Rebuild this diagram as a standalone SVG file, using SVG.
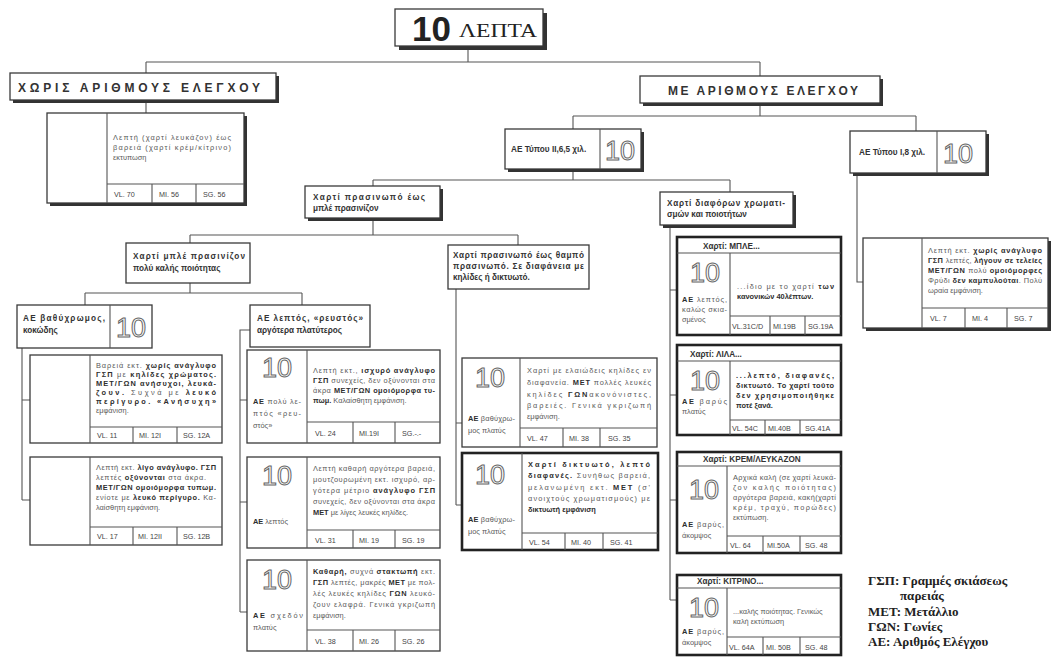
<svg xmlns="http://www.w3.org/2000/svg" width="1053" height="657" viewBox="0 0 1053 657">
<style>
text{font-family:"Liberation Sans",Arial,sans-serif}
.t{font-size:7.4px;fill:#5a5a5a}
.b{font-weight:bold;fill:#2e2e2e}
.bt{font-size:8.2px;font-weight:bold;fill:#333}
.c{font-size:7.2px;fill:#444}
.hd{font-size:12px;font-weight:bold;fill:#333}
.sym{font-size:27px;fill:#fff;stroke:#666;stroke-width:1}
.box{fill:#fff;stroke:#3a3a3a;stroke-width:1.3}
.tb{fill:#fff;stroke:#222;stroke-width:2.6}
.sh{fill:#333}
.ln{fill:none;stroke:#555;stroke-width:1.1}
.lg{font-family:"Liberation Serif",serif;font-size:13px;font-weight:bold;fill:#222}
</style>
<rect width="1053" height="657" fill="#fff"/>
<g id="connectors" class="ln">
<path d="M468 47V62M146 62H760M146 62V73M760 62V76"/>
<path d="M146 100V113"/>
<path d="M760 103V116M573 116H916M573 116V129M916 116V131"/>
<path d="M857 173V282H863"/>
<path d="M573 169V180M373 180H730M373 180V186M730 180V192"/>
<path d="M373 218V235M190 235H518M190 235V243M518 235V245"/>
<path d="M190 283V293M85 293H302M85 293V305M302 293V305"/>
<path d="M22 348V500M22 400H30M22 500H30"/>
<path d="M250 330H240V612M240 400H247M240 502H247M240 612H247"/>
<path d="M456 289V505M456 423H462M456 505H462"/>
<path d="M670 226V600M670 290H677M670 395H677M670 500H677M670 600H677"/>
</g>
<g id="title">
<rect class="sh" x="399" y="13" width="148" height="37"/>
<rect class="box" x="395" y="9" width="148" height="37"/>
<text x="412" y="41" style="font-size:35px;font-weight:bold;fill:#222">10</text>
<text x="459" y="37" textLength="78" lengthAdjust="spacingAndGlyphs" style="font-family:'Liberation Serif',serif;font-size:19px;fill:#222">ΛΕΠΤΑ</text>
</g>
<g id="h-left">
<rect class="sh" x="13" y="76" width="266" height="27"/>
<rect class="box" x="10" y="73" width="266" height="27"/>
<text class="hd" x="18" y="92" textLength="242" lengthAdjust="spacing">ΧΩΡΙΣ ΑΡΙΘΜΟΥΣ ΕΛΕΓΧΟΥ</text>
</g>
<g id="h-right">
<rect class="sh" x="643" y="79" width="240" height="27"/>
<rect class="box" x="640" y="76" width="240" height="27"/>
<text class="hd" x="668" y="95" textLength="190" lengthAdjust="spacing">ΜΕ ΑΡΙΘΜΟΥΣ ΕΛΕΓΧΟΥ</text>
</g>
<g id="b-none">
<rect class="sh" x="50" y="116" width="197" height="90"/>
<rect class="box" x="47" y="113" width="197" height="90"/>
<path class="ln" d="M107 113V203M107 184H244M152 184V203M196 184V203"/>
<text class="t" x="113" y="140" textLength="118" lengthAdjust="spacing">Λεπτή (χαρτί λευκάζον) έως</text>
<text class="t" x="113" y="150" textLength="118" lengthAdjust="spacing">βαρειά (χαρτί κρέμ/κίτρινο)</text>
<text class="t" x="113" y="160">εκτυπωση</text>
<text class="c" x="114" y="197">VL. 70</text><text class="c" x="159" y="197">MI. 56</text><text class="c" x="203" y="197">SG. 56</text>
</g>
<g id="ae-ii">
<rect class="sh" x="508" y="132" width="136" height="40"/>
<rect class="box" x="505" y="129" width="136" height="40"/>
<path class="ln" d="M600 129V169"/>
<text class="bt" x="511" y="152">ΑΕ Τύπου ΙΙ,6,5 χιλ.</text>
<text class="sym" x="605" y="160">10</text>
</g>
<g id="ae-i8">
<rect class="sh" x="853" y="134" width="136" height="42"/>
<rect class="box" x="850" y="131" width="136" height="42"/>
<path class="ln" d="M937 131V173"/>
<text class="bt" x="859" y="155">ΑΕ Τύπου Ι,8 χιλ.</text>
<text class="sym" x="943" y="163">10</text>
</g>
<g id="b-i8">
<rect class="sh" x="866" y="241" width="185" height="90"/>
<rect class="box" x="863" y="238" width="185" height="90"/>
<path class="ln" d="M922 238V328M922 308H1048M965 308V328M1007 308V328"/>
<text class="t" x="928" y="253" textLength="114" lengthAdjust="spacing">Λεπτή εκτ. <tspan class="b">χωρίς ανάγλυφο</tspan></text>
<text class="t" x="928" y="263" textLength="114" lengthAdjust="spacing"><tspan class="b">ΓΣΠ</tspan> λεπτές, <tspan class="b">λήγουν σε τελείες</tspan></text>
<text class="t" x="928" y="273" textLength="114" lengthAdjust="spacing"><tspan class="b">ΜΕΤ/ΓΩΝ</tspan> πολύ <tspan class="b">ομοιόμορφες</tspan></text>
<text class="t" x="928" y="283" textLength="114" lengthAdjust="spacing">Φρύδι <tspan class="b">δεν καμπυλούται</tspan>. Πολύ</text>
<text class="t" x="928" y="293">ωραία εμφάνιση.</text>
<text class="c" x="930" y="321">VL. 7</text><text class="c" x="972" y="321">MI. 4</text><text class="c" x="1014" y="321">SG. 7</text>
</g>
<g id="p1">
<rect class="sh" x="308" y="189" width="135" height="32"/>
<rect class="box" x="305" y="186" width="135" height="32"/>
<text class="bt" x="313" y="200" textLength="112" lengthAdjust="spacing">Χαρτί πρασινωπό έως</text>
<text class="bt" x="313" y="211">μπλέ πρασινίζον</text>
</g>
<g id="p2">
<rect class="sh" x="663" y="195" width="133" height="33"/>
<rect class="box" x="660" y="192" width="133" height="33"/>
<text class="bt" x="667" y="206" textLength="118" lengthAdjust="spacing">Χαρτί διαφόρων χρωματι-</text>
<text class="bt" x="667" y="217">σμών και ποιοτήτων</text>
</g>
<g id="p1a">
<rect class="box" x="126" y="243" width="124" height="40"/>
<text class="bt" x="133" y="259" textLength="112" lengthAdjust="spacing">Χαρτί μπλέ πρασινίζον</text>
<text class="bt" x="133" y="271">πολύ καλής ποιότητας</text>
</g>
<g id="p1b">
<rect class="box" x="448" y="245" width="141" height="44"/>
<text class="bt" x="453" y="258" textLength="131" lengthAdjust="spacing">Χαρτί πρασινωπό έως θαμπό</text>
<text class="bt" x="453" y="269" textLength="131" lengthAdjust="spacing">πρασινωπό. Σε διαφάνεια με</text>
<text class="bt" x="453" y="280">κηλίδες ή δικτυωτό.</text>
</g>
<g id="ae-vathy">
<rect class="box" x="17" y="305" width="135" height="43"/>
<path class="ln" d="M110 305V348"/>
<text class="bt" x="23" y="321" textLength="82" lengthAdjust="spacing">ΑΕ βαθύχρωμος,</text>
<text class="bt" x="23" y="333">κοκώδης</text>
<text class="sym" x="116" y="337">10</text>
</g>
<g id="ae-lept">
<rect class="box" x="250" y="305" width="120" height="42"/>
<text class="bt" x="257" y="321" textLength="106" lengthAdjust="spacing">ΑΕ λεπτός, «ρευστός»</text>
<text class="bt" x="257" y="333">αργότερα πλατύτερος</text>
</g>
<g id="b-11">
<rect class="box" x="30" y="355" width="192" height="88"/>
<path class="ln" d="M90 355V443M90 427H222M133 427V443M177 427V443"/>
<text class="t" x="96" y="368" textLength="120" lengthAdjust="spacing">Βαρειά εκτ. <tspan class="b">χωρίς ανάγλυφο</tspan></text>
<text class="t" x="96" y="377" textLength="120" lengthAdjust="spacing"><tspan class="b">ΓΣΠ</tspan> με <tspan class="b">κηλίδες χρώματος.</tspan></text>
<text class="t" x="96" y="386" textLength="120" lengthAdjust="spacing"><tspan class="b">ΜΕΤ/ΓΩΝ ανήσυχοι, λευκά-</tspan></text>
<text class="t" x="96" y="395" textLength="120" lengthAdjust="spacing"><tspan class="b">ζουν.</tspan> Συχνά με <tspan class="b">λευκό</tspan></text>
<text class="t" x="96" y="404" textLength="120" lengthAdjust="spacing"><tspan class="b">περίγυρο. «Ανήσυχη»</tspan></text>
<text class="t" x="96" y="413">εμφάνιση.</text>
<text class="c" x="97" y="438">VL. 11</text><text class="c" x="139" y="438">MI. 12I</text><text class="c" x="183" y="438">SG. 12A</text>
</g>
<g id="b-17">
<rect class="box" x="30" y="457" width="192" height="88"/>
<path class="ln" d="M90 457V545M90 527H222M133 527V545M177 527V545"/>
<text class="t" x="96" y="470" textLength="120" lengthAdjust="spacing">Λεπτή εκτ. <tspan class="b">λίγο ανάγλυφο. ΓΣΠ</tspan></text>
<text class="t" x="96" y="480" textLength="110" lengthAdjust="spacing">λεπτές <tspan class="b">οξύνονται</tspan> στα άκρα.</text>
<text class="t" x="96" y="490" textLength="120" lengthAdjust="spacing"><tspan class="b">ΜΕΤ/ΓΩΝ ομοιόμορφα τυπωμ.</tspan></text>
<text class="t" x="96" y="500" textLength="120" lengthAdjust="spacing">ενίοτε με <tspan class="b">λευκό περίγυρο.</tspan> Κα-</text>
<text class="t" x="96" y="510">λαίσθητη εμφάνιση.</text>
<text class="c" x="97" y="539">VL. 17</text><text class="c" x="138" y="539">MI. 12II</text><text class="c" x="183" y="539">SG. 12B</text>
</g>
<g id="r-24">
<rect class="box" x="247" y="350" width="193" height="93"/>
<path class="ln" d="M307 350V443M307 422H440M353 422V443M395 422V443"/>
<text class="sym" x="262" y="377">10</text>
<text class="t" x="253" y="404" textLength="48" lengthAdjust="spacing"><tspan class="b">ΑΕ</tspan> πολύ λε-</text>
<text class="t" x="253" y="416" textLength="48" lengthAdjust="spacing">πτός «ρευ-</text>
<text class="t" x="253" y="428">στός»</text>
<text class="t" x="313" y="373" textLength="122" lengthAdjust="spacing">Λεπτή εκτ., <tspan class="b">ισχυρό ανάγλυφο</tspan></text>
<text class="t" x="313" y="383" textLength="122" lengthAdjust="spacing"><tspan class="b">ΓΣΠ</tspan> συνεχείς, δεν οξύνονται στα</text>
<text class="t" x="313" y="393" textLength="122" lengthAdjust="spacing">άκρα <tspan class="b">ΜΕΤ/ΓΩΝ ομοιόμορφα τυ-</tspan></text>
<text class="t" x="313" y="403"><tspan class="b">πωμ.</tspan> Καλαίσθητη εμφάνιση.</text>
<text class="c" x="315" y="436">VL. 24</text><text class="c" x="359" y="436">MI.19I</text><text class="c" x="402" y="436">SG.-.-</text>
</g>
<g id="r-31">
<rect class="box" x="247" y="457" width="193" height="91"/>
<path class="ln" d="M307 457V548M307 530H440M353 530V548M395 530V548"/>
<text class="sym" x="262" y="485">10</text>
<text class="t" x="253" y="524"><tspan class="b">ΑΕ</tspan> λεπτός</text>
<text class="t" x="313" y="471" textLength="122" lengthAdjust="spacing">Λεπτή καθαρή αργότερα βαρειά,</text>
<text class="t" x="313" y="482" textLength="122" lengthAdjust="spacing">μουτζουρωμένη εκτ. ισχυρό, αρ-</text>
<text class="t" x="313" y="493" textLength="122" lengthAdjust="spacing">γότερα μέτριο <tspan class="b">ανάγλυφο ΓΣΠ</tspan></text>
<text class="t" x="313" y="504" textLength="122" lengthAdjust="spacing">συνεχείς, δεν οξύνονται στα άκρα</text>
<text class="t" x="313" y="515"><tspan class="b">ΜΕΤ</tspan> με λίγες λευκές κηλίδες.</text>
<text class="c" x="315" y="543">VL. 31</text><text class="c" x="359" y="543">MI. 19</text><text class="c" x="402" y="543">SG. 19</text>
</g>
<g id="r-38">
<rect class="box" x="247" y="560" width="193" height="91"/>
<path class="ln" d="M307 560V651M307 630H440M353 630V651M395 630V651"/>
<text class="sym" x="262" y="589">10</text>
<text class="t" x="253" y="618" textLength="50" lengthAdjust="spacing"><tspan class="b">ΑΕ</tspan> σχεδόν</text>
<text class="t" x="253" y="630">πλατύς</text>
<text class="t" x="313" y="574" textLength="122" lengthAdjust="spacing"><tspan class="b">Καθαρή,</tspan> συχνά <tspan class="b">στακτωπή</tspan> εκτ.</text>
<text class="t" x="313" y="585" textLength="122" lengthAdjust="spacing"><tspan class="b">ΓΣΠ</tspan> λεπτές, μακρές <tspan class="b">ΜΕΤ</tspan> με πολ-</text>
<text class="t" x="313" y="596" textLength="122" lengthAdjust="spacing">λές λευκές κηλίδες <tspan class="b">ΓΩΝ</tspan> λευκό-</text>
<text class="t" x="313" y="607" textLength="122" lengthAdjust="spacing">ζουν ελαφρά. Γενικά γκριζωπή</text>
<text class="t" x="313" y="618">εμφάνιση.</text>
<text class="c" x="315" y="644">VL. 38</text><text class="c" x="359" y="644">MI. 26</text><text class="c" x="402" y="644">SG. 26</text>
</g>
<g id="g-47">
<rect class="box" x="462" y="358" width="195" height="89"/>
<path class="ln" d="M520 358V447M520 428H657M563 428V447M600 428V447"/>
<text class="sym" x="475" y="387">10</text>
<text class="t" x="468" y="421" textLength="47" lengthAdjust="spacing"><tspan class="b">ΑΕ</tspan> βαθύχρω-</text>
<text class="t" x="468" y="433">μος πλατύς</text>
<text class="t" x="527" y="373" textLength="124" lengthAdjust="spacing">Χαρτί με ελαιώδεις κηλίδες εν</text>
<text class="t" x="527" y="385" textLength="124" lengthAdjust="spacing">διαφανεία. <tspan class="b">ΜΕΤ</tspan> πολλές λευκές</text>
<text class="t" x="527" y="397" textLength="124" lengthAdjust="spacing">κηλίδες <tspan class="b">ΓΩΝ</tspan>ακονόνιστες,</text>
<text class="t" x="527" y="408" textLength="124" lengthAdjust="spacing">βαρειές. Γενικά γκριζωπή</text>
<text class="t" x="527" y="419">εμφάνιση.</text>
<text class="c" x="527" y="441">VL. 47</text><text class="c" x="569" y="441">MI. 38</text><text class="c" x="608" y="441">SG. 35</text>
</g>
<g id="g-54">
<rect class="tb" x="462" y="453" width="196" height="97"/>
<path class="ln" d="M522 453V550M522 533H658M565 533V550M603 533V550"/>
<text class="sym" x="475" y="484">10</text>
<text class="t" x="468" y="522" textLength="47" lengthAdjust="spacing"><tspan class="b">ΑΕ</tspan> βαθύχρω-</text>
<text class="t" x="468" y="534">μος πλατύς</text>
<text class="t" x="528" y="467" textLength="122" lengthAdjust="spacing"><tspan class="b">Χαρτί δικτυωτό, λεπτό</tspan></text>
<text class="t" x="528" y="478" textLength="122" lengthAdjust="spacing"><tspan class="b">διαφανές.</tspan> Συνήθως βαρειά,</text>
<text class="t" x="528" y="490" textLength="122" lengthAdjust="spacing">μελανωμένη εκτ. <tspan class="b">ΜΕΤ</tspan> (σ'</text>
<text class="t" x="528" y="501" textLength="122" lengthAdjust="spacing">ανοιχτούς χρωματισμούς) με</text>
<text class="t" x="528" y="512"><tspan class="b">δικτυωτή εμφάνιση</tspan></text>
<text class="c" x="529" y="545">VL. 54</text><text class="c" x="571" y="545">MI. 40</text><text class="c" x="610" y="545">SG. 41</text>
</g>
<g id="m-blue">
<rect class="tb" x="677" y="237" width="164" height="98"/>
<path class="ln" d="M677 253H841M730 253V335M730 316H841M770 316V335M805 316V335"/>
<text class="bt" x="703" y="249">Χαρτί: ΜΠΛΕ...</text>
<text class="sym" x="690" y="282">10</text>
<text class="t" x="682" y="302" textLength="45" lengthAdjust="spacing"><tspan class="b">ΑΕ</tspan> λεπτός,</text>
<text class="t" x="682" y="312" textLength="45" lengthAdjust="spacing">καλώς σκια-</text>
<text class="t" x="682" y="322">σμένος</text>
<text class="t" x="737" y="289" textLength="97" lengthAdjust="spacing">...ίδιο με το χαρτί <tspan class="b">των</tspan></text>
<text class="t" x="737" y="299"><tspan class="b">κανονικών 40λέπτων.</tspan></text>
<text class="c" x="732" y="329">VL.31C/D</text><text class="c" x="773" y="329">MI.19B</text><text class="c" x="808" y="329">SG.19A</text>
</g>
<g id="m-lila">
<rect class="tb" x="677" y="345" width="164" height="90"/>
<path class="ln" d="M677 361H841M730 361V435M730 420H841M765 420V435M800 420V435"/>
<text class="bt" x="690" y="357">Χαρτί: ΛΙΛΑ...</text>
<text class="sym" x="690" y="390">10</text>
<text class="t" x="682" y="404" textLength="45" lengthAdjust="spacing"><tspan class="b">ΑΕ</tspan> βαρύς</text>
<text class="t" x="682" y="414">πλατύς</text>
<text class="t b" x="736" y="378" textLength="98" lengthAdjust="spacing">...λεπτό, διαφανές,</text>
<text class="t b" x="736" y="388" textLength="98" lengthAdjust="spacing">δικτυωτό. Το χαρτί τούτο</text>
<text class="t b" x="736" y="398" textLength="98" lengthAdjust="spacing">δεν χρησιμοποιήθηκε</text>
<text class="t b" x="736" y="408">ποτέ ξανά.</text>
<text class="c" x="732" y="431">VL. 54C</text><text class="c" x="768" y="431">MI.40B</text><text class="c" x="805" y="431">SG.41A</text>
</g>
<g id="m-krem">
<rect class="tb" x="677" y="452" width="164" height="101"/>
<path class="ln" d="M677 466H841M727 466V553M727 536H841M763 536V553M800 536V553"/>
<text class="bt" x="703" y="462">Χαρτί: ΚΡΕΜ/ΛΕΥΚΑΖΟΝ</text>
<text class="sym" x="689" y="499">10</text>
<text class="t" x="682" y="527" textLength="42" lengthAdjust="spacing"><tspan class="b">ΑΕ</tspan> βαρύς,</text>
<text class="t" x="682" y="538">άκομψος</text>
<text class="t" x="733" y="480" textLength="103" lengthAdjust="spacing">Αρχικά καλή (σε χαρτί λευκά-</text>
<text class="t" x="733" y="490" textLength="103" lengthAdjust="spacing">ζον καλής ποιότητας)</text>
<text class="t" x="733" y="500" textLength="103" lengthAdjust="spacing">αργότερα βαρειά, κακή(χαρτί</text>
<text class="t" x="733" y="510" textLength="103" lengthAdjust="spacing">κρέμ, τραχύ, πορώδες)</text>
<text class="t" x="733" y="520">εκτύπωση.</text>
<text class="c" x="730" y="548">VL. 64</text><text class="c" x="767" y="548">MI.50A</text><text class="c" x="805" y="548">SG. 48</text>
</g>
<g id="m-kitr">
<rect class="tb" x="677" y="575" width="164" height="80"/>
<path class="ln" d="M677 588H841M727 588V655M727 637H841M763 637V655M800 637V655"/>
<text class="bt" x="697" y="584">Χαρτί: ΚΙΤΡΙΝΟ...</text>
<text class="sym" x="689" y="617">10</text>
<text class="t" x="682" y="634" textLength="42" lengthAdjust="spacing"><tspan class="b">ΑΕ</tspan> βαρύς,</text>
<text class="t" x="682" y="645">άκομψος</text>
<text class="t" x="733" y="614">...καλής ποιότητας. Γενικώς</text>
<text class="t" x="733" y="624">καλή εκτύπωση</text>
<text class="c" x="729" y="650">VL. 64A</text><text class="c" x="766" y="650">MI. 50B</text><text class="c" x="805" y="650">SG. 48</text>
</g>
<g id="legend">
<text class="lg" x="868" y="585">ΓΣΠ: Γραμμές σκιάσεως</text>
<text class="lg" x="900" y="600">παρειάς</text>
<text class="lg" x="868" y="616">ΜΕΤ: Μετάλλιο</text>
<text class="lg" x="868" y="631">ΓΩΝ: Γωνίες</text>
<text class="lg" x="868" y="646">ΑΕ: Αριθμός Ελέγχου</text>
</g>
</svg>
